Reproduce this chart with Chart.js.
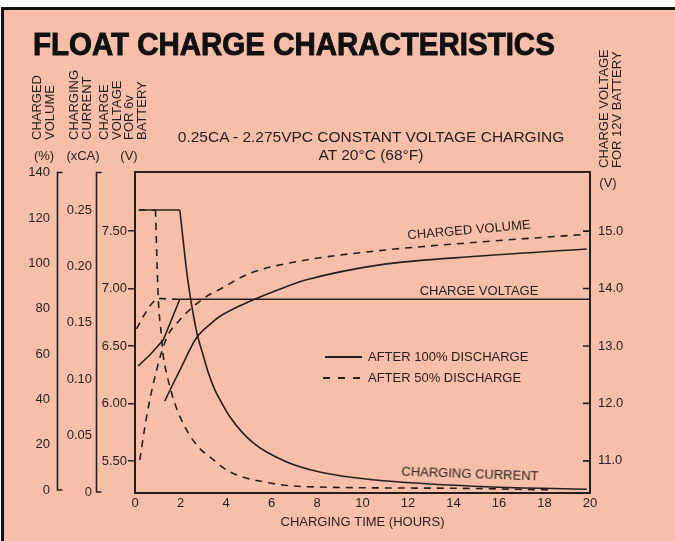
<!DOCTYPE html>
<html>
<head>
<meta charset="utf-8">
<script src="https://cdn.jsdelivr.net/npm/chart.js@4.4.1/dist/chart.umd.min.js"></script>
<style>
  body { margin: 0; width: 675px; height: 541px; overflow: hidden; background: #fff; position: relative;
         font-family: "Liberation Sans", Arial, sans-serif; color: #231f20; }
  #bg { position: absolute; left: 1px; top: 7px; right: -5px; bottom: -5px; background: #f7bea9;
        border-top: 3px solid #111; border-left: 3px solid #111; }
  canvas { position: absolute; left: 0; top: 0; }
  .t { position: absolute; white-space: nowrap; font-size: 13px; line-height: 16px; }
  .c { transform: translate(-50%, -50%); }
  .vt { position: absolute; writing-mode: vertical-rl; transform: rotate(180deg); font-size: 13px;
        line-height: 13px; white-space: nowrap; }
  #title { position: absolute; left: 33px; top: 29px; font-size: 31px; line-height: 31px; font-weight: bold;
           white-space: nowrap; transform-origin: 0 0; -webkit-text-stroke: 0.9px #111; color: #111; }
  .hdr { position: absolute; left: 371px; font-size: 15.5px; line-height: 18px; white-space: nowrap; transform: translateX(-50%); }
</style>
</head>
<body>
<div id="bg"></div>
<canvas id="floatChart" width="675" height="541"></canvas>

<div id="title">FLOAT CHARGE CHARACTERISTICS</div>

<div class="vt" style="left:30px; top:60px; height:80px; width:26px;">CHARGED<br>VOLUME</div>
<div class="vt" style="left:67px; top:60px; height:80px; width:26px;">CHARGING<br>CURRENT</div>
<div class="vt" style="left:98px; top:60px; height:80px; width:52px; line-height:12.7px;">CHARGE<br>VOLTAGE<br>FOR 6v<br>BATTERY</div>
<div class="vt" style="left:597px; top:38px; height:130px; width:26px;">CHARGE VOLTAGE<br>FOR 12V BATTERY</div>

<div class="t c" style="left:44px; top:156px;">(%)</div>
<div class="t c" style="left:83px; top:156px;">(xCA)</div>
<div class="t c" style="left:129px; top:156px;">(V)</div>
<div class="t c" style="left:608px; top:183px;">(V)</div>

<div class="hdr" style="top:128px;">0.25CA - 2.275VPC CONSTANT VOLTAGE CHARGING</div>
<div class="hdr" style="top:146px;">AT 20°C (68°F)</div>

<div class="t" style="left:469px; top:230px; transform: translate(-50%,-50%) rotate(-5deg);">CHARGED VOLUME</div>
<div class="t c" style="left:479px; top:291px;">CHARGE VOLTAGE</div>
<div class="t" style="left:470px; top:474px; transform: translate(-50%,-50%) rotate(2deg);">CHARGING CURRENT</div>

<div style="position:absolute; left:325px; top:356px; width:37px; height:1.6px; background:#231f20;"></div>
<div style="position:absolute; left:323px; top:377px; width:38px; height:1.6px;
            background: repeating-linear-gradient(to right, #231f20 0 7px, transparent 7px 15px);"></div>
<div class="t" style="left:368px; top:349px;">AFTER 100% DISCHARGE</div>
<div class="t" style="left:368px; top:370px;">AFTER 50% DISCHARGE</div>

<script>
const ink = '#231f20';

// tick labels
const pctTicks = [0, 20, 40, 60, 80, 100, 120, 140];
const curTicks = [0, 0.05, 0.10, 0.15, 0.20, 0.25];
const v6Ticks = [5.5, 6.0, 6.5, 7.0, 7.5];
const v12Ticks = [11, 12, 13, 14, 15];

// charged volume (%)
const volSolidT = [1.31, 1.61, 2.05, 2.69, 3.37, 3.72, 5.18, 6.65, 7.54, 10.76, 15.2, 19.86];
const volSolidPct = [39.3, 45.6, 54.5, 67, 73.8, 76.6, 83.9, 89.8, 92.8, 99.4, 103.3, 106.4];
const volDashT = [0.21, 0.51, 0.95, 1.39, 1.96, 3.0, 3.8, 5.0, 7.2, 10.76, 15.16, 19.86];
const volDashPct = [13.3, 32.4, 53, 67.1, 75, 84.5, 89, 95.5, 101, 105.7, 109.5, 112.9];

// charging current (xCA) - first two points are the 0.25CA limit
const curSolidT = [0.17, 1.97, 2.32, 2.71, 3.0, 3.22, 3.5, 3.81, 4.16, 5.17, 6.67, 8.12, 9.57, 11.5, 15.46, 19.86];
const curSolidCA = [0.25, 0.25, 0.188, 0.142, 0.121, 0.106, 0.091, 0.079, 0.067, 0.044, 0.0266, 0.0177, 0.0129, 0.0091, 0.0047, 0.0024];
const curDashT = [0.17, 0.9, 1.02, 1.17, 1.24, 1.39, 1.75, 2.19, 2.78, 3.37, 4.16, 5.62, 7.54, 14.0, 18.4];
const curDashCA = [0.25, 0.25, 0.173, 0.137, 0.121, 0.105, 0.0786, 0.0579, 0.040, 0.0298, 0.0179, 0.0091, 0.0047, 0.0033, 0.0018];

// charge voltage (V, 6V battery)
const voltSolidT = [0.14, 0.65, 1.24, 1.97, 20];
const voltSolidV = [6.326, 6.422, 6.552, 6.906, 6.906];
const voltDashT = [0.07, 0.36, 0.65, 0.95, 1.5, 2.0];
const voltDashV = [6.65, 6.755, 6.848, 6.915, 6.908, 6.906];

function pts(xs, ys) {
    return xs.map((x, i) => ({ x: x, y: ys[i] }));
}

function series(xs, ys, axis, dashed, smooth) {
    return {
        data: pts(xs, ys),
        yAxisID: axis,
        borderColor: ink,
        borderWidth: 1.6,
        borderDash: dashed ? [7, 6] : [],
        pointRadius: 0,
        fill: false,
        tension: 0,
        cubicInterpolationMode: smooth ? 'monotone' : 'default'
    };
}

function fixTicks(list) {
    return function(scale) {
        scale.ticks = list.map(v => ({ value: v }));
    };
}

function fixWidth(w) {
    return function(scale) { scale.width = w; };
}

const tickFont = { family: 'Liberation Sans', size: 13 };
const noGrid = { display: false, drawTicks: false, tickLength: 0 };

// brackets on the outer left axes, inward ticks on the right axis and the plot frame
const decor = {
    id: 'decor',
    afterDraw(chart) {
        const ctx = chart.ctx;
        const a = chart.chartArea;
        ctx.save();
        ctx.strokeStyle = ink;
        ctx.lineWidth = 1.6;
        ['yPct', 'yCur'].forEach(id => {
            const s = chart.scales[id];
            const x = Math.round(s.right) - 0.5;
            const y0 = s.getPixelForValue(0);
            ctx.beginPath();
            ctx.moveTo(x + 5, a.top + 0.5);
            ctx.lineTo(x, a.top + 0.5);
            ctx.lineTo(x, y0);
            ctx.lineTo(x + 5, y0);
            ctx.stroke();
        });
        const r = chart.scales.yV12;
        ctx.beginPath();
        r.ticks.forEach((t, i) => {
            const y = r.getPixelForTick(i);
            ctx.moveTo(a.right - 7, y);
            ctx.lineTo(a.right, y);
        });
        ctx.stroke();
        ctx.lineWidth = 2;
        ctx.strokeRect(a.left, a.top, a.right - a.left, a.bottom - a.top);
        ctx.restore();
    }
};

const ctx = document.getElementById('floatChart').getContext('2d');

new Chart(ctx, {
    type: 'line',
    data: {
        datasets: [
            series(volSolidT, volSolidPct, 'yPct', false, true),
            series(volDashT, volDashPct, 'yPct', true, true),
            // current: flat limit part and decay part, so the corner stays sharp
            series(curSolidT.slice(0, 2), curSolidCA.slice(0, 2), 'yCur', false, false),
            series(curSolidT.slice(1), curSolidCA.slice(1), 'yCur', false, true),
            series(curDashT.slice(0, 2), curDashCA.slice(0, 2), 'yCur', true, false),
            series(curDashT.slice(1), curDashCA.slice(1), 'yCur', true, true),
            series(voltSolidT, voltSolidV, 'yV6', false, false),
            series(voltDashT, voltDashV, 'yV6', true, false)
        ]
    },
    options: {
        responsive: false,
        animation: false,
        events: [],
        layout: { padding: { left: 8, right: 30, top: 172, bottom: 0 } },
        plugins: { legend: { display: false }, tooltip: { enabled: false } },
        scales: {
            x: {
                type: 'linear',
                min: 0,
                max: 20,
                grid: noGrid,
                border: { display: false },
                ticks: { stepSize: 2, font: tickFont, color: ink, padding: 3, maxRotation: 0, autoSkip: false },
                title: { display: true, text: 'CHARGING TIME (HOURS)', font: tickFont, color: ink, padding: { top: 0, bottom: 11 } },
                afterFit: function(scale) { scale.height = 48; }
            },
            yPct: {
                position: 'left',
                weight: 3,
                min: -1.3,
                max: 140.4,
                grid: noGrid,
                border: { display: false },
                ticks: { font: tickFont, color: ink, padding: 8 },
                afterBuildTicks: fixTicks(pctTicks),
                afterFit: fixWidth(50)
            },
            yCur: {
                position: 'left',
                weight: 2,
                min: -0.0009,
                max: 0.2837,
                grid: noGrid,
                border: { display: false },
                ticks: { font: tickFont, color: ink, padding: 5,
                         callback: v => v === 0 ? '0' : v.toFixed(2) },
                afterBuildTicks: fixTicks(curTicks),
                afterFit: fixWidth(39)
            },
            yV6: {
                position: 'left',
                weight: 1,
                min: 5.222,
                max: 8.013,
                grid: { display: true, drawOnChartArea: false, tickLength: 7, color: ink, lineWidth: 1.5 },
                border: { display: true, color: ink, width: 2 },
                ticks: { font: tickFont, color: ink, padding: 1, callback: v => v.toFixed(2) },
                afterBuildTicks: fixTicks(v6Ticks),
                afterFit: fixWidth(38)
            },
            yV12: {
                position: 'right',
                min: 10.44,
                max: 16.03,
                grid: noGrid,
                border: { display: false },
                ticks: { font: tickFont, color: ink, padding: 8, callback: v => v.toFixed(1) },
                afterBuildTicks: fixTicks(v12Ticks),
                afterFit: fixWidth(55)
            }
        }
    },
    plugins: [decor]
});

// squeeze the heavy title to the reference width
const title = document.getElementById('title');
title.style.transform = 'scaleX(' + (522 / title.offsetWidth) + ')';
</script>
</body>
</html>
